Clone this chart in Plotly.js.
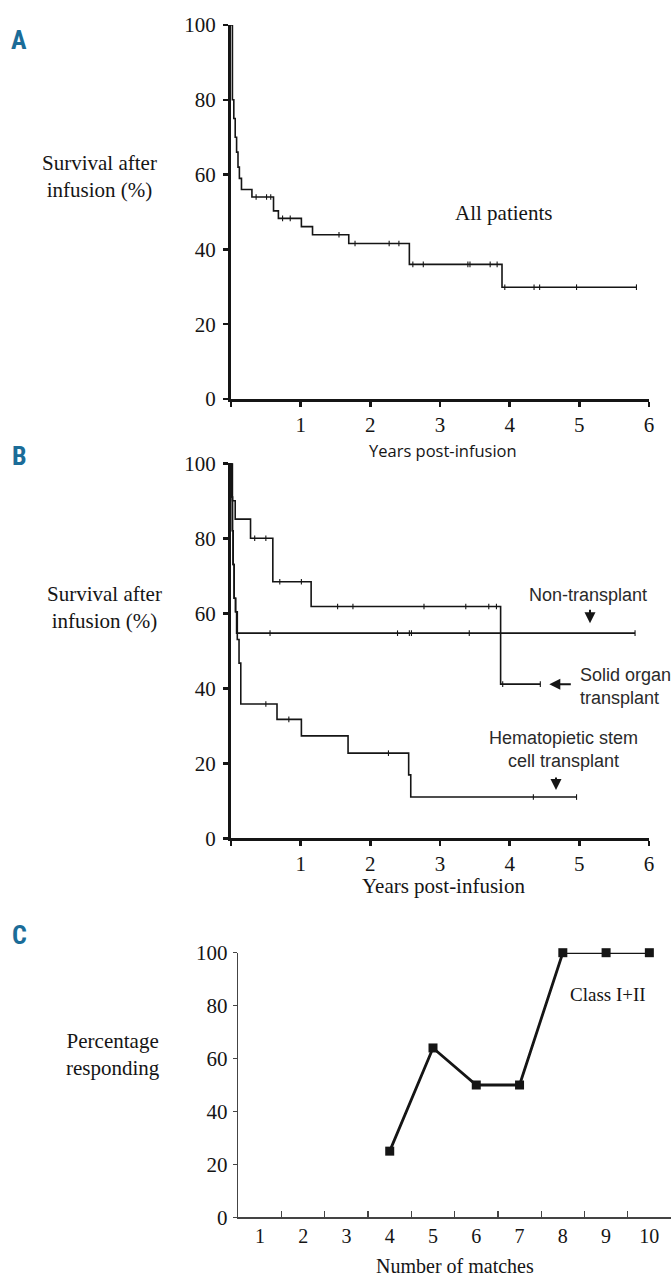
<!DOCTYPE html>
<html>
<head>
<meta charset="utf-8">
<script src="https://cdn.plot.ly/plotly-3.0.1.min.js"></script>
<style>html,body{margin:0;padding:0;background:#fff;}#chart{width:671px;height:1281px;}</style>
</head>
<body>
<div id="chart"></div>
<script>
// ---------- Panel A: all patients (Kaplan-Meier) ----------
var allTime = [0, 0.02, 0.04, 0.06, 0.08, 0.10, 0.12, 0.15, 0.30, 0.61, 0.68, 1.01, 1.17, 1.69, 2.56, 3.89, 5.82];
var allSurv = [100, 80, 75, 70, 66, 62, 59, 56, 54, 50.3, 48.3, 46.1, 43.9, 41.6, 36.0, 29.9, 29.9];
var allCensor = [0.36, 0.51, 0.57, 0.74, 0.85, 1.55, 1.78, 2.27, 2.41, 2.61, 2.76, 3.40, 3.43, 3.72, 3.82, 3.93, 4.35, 4.43, 4.96, 5.82];

// ---------- Panel B: by transplant group ----------
var solidTime = [0, 0.02, 0.06, 0.28, 0.60, 1.15, 3.87, 4.44];
var solidSurv = [100, 90, 85.1, 80, 68.4, 61.8, 41.1, 41.1];
var solidCensor = [0.34, 0.50, 0.70, 1.01, 1.53, 1.75, 2.77, 3.37, 3.70, 3.81, 3.90, 4.44];

var nonTime = [0, 0.01, 0.02, 0.03, 0.045, 0.065, 0.08, 5.80];
var nonSurv = [100, 91, 82, 73, 64, 60.4, 54.7, 54.7];
var nonCensor = [0.56, 2.39, 2.56, 2.59, 3.42, 5.80];

var hsctTime = [0, 0.01, 0.02, 0.03, 0.045, 0.065, 0.09, 0.115, 0.14, 0.66, 1.01, 1.68, 2.55, 2.58, 4.96];
var hsctSurv = [100, 91, 82, 73, 64, 60.4, 53, 46.7, 35.8, 31.7, 27.3, 22.7, 16.9, 11.0, 11.0];
var hsctCensor = [0.50, 0.83, 2.26, 4.34, 4.96];

// ---------- Panel C: HLA matches ----------
var matchCategories = ['1','2','3','4','5','6','7','8','9','10'];
var matchNumbers = ['4','5','6','7','8','9','10'];
var percentResponding = [25, 64, 50, 50, 100, 100, 100];

var yTicks = [0, 20, 40, 60, 80, 100];
var xYears = [0, 1, 2, 3, 4, 5, 6];
var xYearLabels = ['', '1', '2', '3', '4', '5', '6'];

function stepAt(times, surv, t) {
  var v = surv[0];
  for (var i = 0; i < times.length; i++) { if (times[i] <= t + 1e-9) v = surv[i]; }
  return v;
}
var SERIF = "'Liberation Serif', 'DejaVu Serif', serif";
var SANS = "'Liberation Sans', Arial, sans-serif";
var INK = '#151515';

function kmTrace(t, s, xa, ya) {
  return {x: t, y: s, xaxis: xa, yaxis: ya, type: 'scatter', mode: 'lines',
    line: {shape: 'hv', color: INK, width: 1.6}, hoverinfo: 'skip', showlegend: false, cliponaxis: false};
}
function censorTrace(c, t, s, xa, ya) {
  return {x: c, y: c.map(function (v) { return stepAt(t, s, v); }), xaxis: xa, yaxis: ya,
    type: 'scatter', mode: 'markers',
    marker: {symbol: 'line-ns', size: 4, line: {width: 1.1, color: INK}},
    hoverinfo: 'skip', showlegend: false, cliponaxis: false};
}

var data = [
  kmTrace(allTime, allSurv, 'x', 'y'),
  censorTrace(allCensor, allTime, allSurv, 'x', 'y'),
  kmTrace(solidTime, solidSurv, 'x2', 'y2'),
  censorTrace(solidCensor, solidTime, solidSurv, 'x2', 'y2'),
  kmTrace(nonTime, nonSurv, 'x2', 'y2'),
  censorTrace(nonCensor, nonTime, nonSurv, 'x2', 'y2'),
  kmTrace(hsctTime, hsctSurv, 'x2', 'y2'),
  censorTrace(hsctCensor, hsctTime, hsctSurv, 'x2', 'y2'),
  {x: matchNumbers, y: percentResponding, xaxis: 'x3', yaxis: 'y3', type: 'scatter', mode: 'lines+markers',
   line: {color: INK, width: 2.8}, marker: {symbol: 'square', size: 9, color: INK},
   hoverinfo: 'skip', showlegend: false, cliponaxis: false}
];

function kmX(anchor) {
  return {domain: [0.3443, 0.9672], range: [0, 6], anchor: anchor, showgrid: false, zeroline: false,
    showline: true, linewidth: 3, linecolor: INK, ticks: 'outside', ticklen: 5, tickwidth: 2.5, tickcolor: INK,
    tickvals: xYears, ticktext: xYearLabels, tickfont: {family: SERIF, size: 21, color: INK}, fixedrange: true};
}
function kmY(anchor, dom) {
  return {domain: dom, range: [0, 100], anchor: anchor, showgrid: false, zeroline: false,
    showline: true, linewidth: 3, linecolor: INK, ticks: 'outside', ticklen: 5, tickwidth: 2.5, tickcolor: INK,
    tickvals: yTicks, tickfont: {family: SERIF, size: 21, color: INK}, ticklabelstandoff: 3, fixedrange: true};
}

function pa(text, xpx, ypx, font, extra) {
  var a = {text: text, xref: 'paper', yref: 'paper', x: xpx / 671, y: 1 - ypx / 1281,
    xanchor: 'center', yanchor: 'middle', showarrow: false, font: font, align: 'center'};
  if (extra) for (var k in extra) a[k] = extra[k];
  return a;
}
var serifF = {family: SERIF, size: 21, color: INK};
var sansF = {family: SANS, size: 18, color: '#2a2a2a'};
var letterF = {family: "'Liberation Sans Narrow', 'Roboto Condensed', Roboto, sans-serif", size: 26, color: '#1b6c98', weight: 700};

function arrow(x, y, ax, ay) {
  return {xref: 'x2', yref: 'y2', x: x, y: y, ax: ax, ay: ay, text: '', showarrow: true,
    arrowhead: 2, arrowsize: 1.1, arrowwidth: 2, arrowcolor: INK, standoff: 0};
}

var layout = {
  width: 671, height: 1281, margin: {l: 0, r: 0, t: 0, b: 0},
  paper_bgcolor: '#ffffff', plot_bgcolor: '#ffffff', showlegend: false,
  xaxis: kmX('y'), yaxis: kmY('x', [0.68852, 0.98048]),
  xaxis2: kmX('y2'), yaxis2: kmY('x2', [0.34559, 0.63833]),
  xaxis3: {domain: [0.3551, 1.0], anchor: 'y3', type: 'category', categoryarray: matchCategories,
    categoryorder: 'array', range: [-0.5, 9.5], tickson: 'boundaries', ticks: 'inside', ticklen: 6,
    tickwidth: 1.3, tickcolor: '#444', showline: true, linewidth: 1.5, linecolor: '#444', showgrid: false,
    zeroline: false, tickfont: {family: SERIF, size: 20, color: INK}, fixedrange: true},
  yaxis3: {domain: [0.04973, 0.25628], anchor: 'x3', range: [0, 100], tickvals: yTicks, showgrid: false,
    zeroline: false, showline: true, linewidth: 1.5, linecolor: '#444', ticks: 'outside', ticklen: 4,
    tickwidth: 1.3, tickcolor: '#444', ticklabelstandoff: 1, tickfont: {family: SERIF, size: 21, color: INK}, fixedrange: true},
  annotations: [
    pa('A', 19, 40, letterF),
    pa('B', 19, 456, letterF),
    pa('C', 19, 935, letterF),
    pa('Survival after<br>infusion (%)', 99, 176, serifF),
    pa('Survival after<br>infusion (%)', 104, 607, serifF),
    pa('Percentage<br>responding', 113, 1054, serifF),
    pa('Years post-infusion', 443, 451, {family: "'Open Sans', 'Noto Sans', sans-serif", size: 16.5, color: INK}),
    pa('Years post-infusion', 444, 886, serifF),
    pa('Number of matches', 455, 1266, {family: SERIF, size: 20, color: INK}),
    pa('All patients', 503, 213, serifF),
    pa('Non-transplant', 588, 595, sansF),
    pa('Solid organ<br>transplant', 577.7, 686, sansF, {xanchor: 'left', align: 'left'}),
    pa('Hematopietic stem<br>cell transplant', 563, 749, sansF),
    pa('Class I+II', 608, 994, {family: SERIF, size: 19, color: INK}),
    arrow(5.153, 57.33, 0, -15),
    arrow(4.569, 41.07, 23, 0),
    arrow(4.665, 12.88, 0, -14)
  ]
};

Plotly.newPlot('chart', data, layout, {displayModeBar: false, staticPlot: true});
</script>
</body>
</html>
